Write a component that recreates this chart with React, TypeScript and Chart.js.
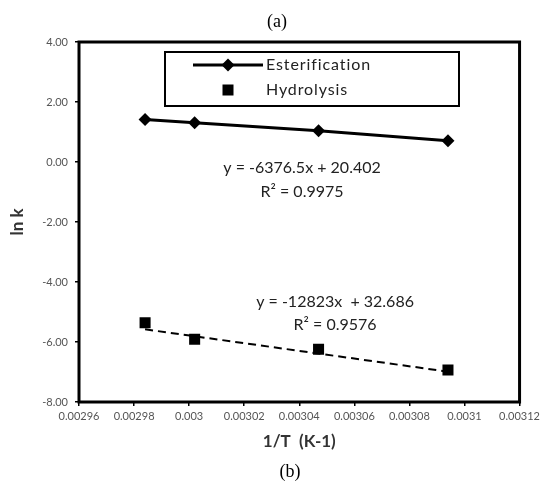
import React, { useEffect, useRef } from "react";
import { Chart, registerables } from "chart.js";

Chart.register(...registerables);

// ---- data ----
const invT = [0.002984, 0.003002, 0.003047, 0.003094];
const esterLnK = [1.42, 1.31, 1.04, 0.71];
const hydroLnK = [-5.36, -5.91, -6.24, -6.93];

// trendline equation of hydrolysis (as printed on the chart)
const hydroSlope = -12823;
const hydroIntercept = 32.686;

const xTicks = [0.00296, 0.00298, 0.003, 0.00302, 0.00304, 0.00306, 0.00308, 0.0031, 0.00312];
const xTickLabels = ["0.00296", "0.00298", "0.003", "0.00302", "0.00304", "0.00306", "0.00308", "0.0031", "0.00312"];
const yTicks = [-8, -6, -4, -2, 0, 2, 4];
const yTickLabels = ["-8.00", "-6.00", "-4.00", "-2.00", "0.00", "2.00", "4.00"];

const seriesNames = ["Esterification", "Hydrolysis"];

// equation annotations: [x, y, text]
const eqLabels: [number, number, string][] = [
  [0.003041, -0.2, "y = -6376.5x + 20.402"],
  [0.003041, -1.0, "R² = 0.9975"],
  [0.003053, -4.67, "y = -12823x  + 32.686"],
  [0.003053, -5.43, "R² = 0.9576"],
];

const UI_FONT = "Lato, 'Open Sans', sans-serif";

const decorPlugin = {
  id: "decor",
  afterDraw(chart: any) {
    const ctx = chart.ctx;
    const ca = chart.chartArea;
    const xs = chart.scales.x;
    const ys = chart.scales.y;
    ctx.save();
    // frame
    ctx.strokeStyle = "#000";
    ctx.lineWidth = 3;
    ctx.strokeRect(ca.left, ca.top, ca.right - ca.left, ca.bottom - ca.top);

    // equations
    ctx.fillStyle = "#222";
    ctx.font = `16px ${UI_FONT}`;
    ctx.textAlign = "center";
    ctx.textBaseline = "middle";
    eqLabels.forEach(([x, y, t]) => {
      ctx.fillText(t, xs.getPixelForValue(x), ys.getPixelForValue(y));
    });

    // legend
    const lx = 165, ly = 52, lw = 294, lh = 54;
    ctx.fillStyle = "#fff";
    ctx.fillRect(lx, ly, lw, lh);
    ctx.lineWidth = 2;
    ctx.strokeStyle = "#000";
    ctx.strokeRect(lx, ly, lw, lh);
    const row1 = ly + 13, row2 = ly + 38;
    ctx.lineWidth = 3;
    ctx.beginPath();
    ctx.moveTo(193, row1);
    ctx.lineTo(263, row1);
    ctx.stroke();
    ctx.fillStyle = "#000";
    ctx.beginPath();
    ctx.moveTo(228, row1 - 6.5);
    ctx.lineTo(234.5, row1);
    ctx.lineTo(228, row1 + 6.5);
    ctx.lineTo(221.5, row1);
    ctx.closePath();
    ctx.fill();
    ctx.fillRect(228 - 5.5, row2 - 5.5, 11, 11);
    ctx.fillStyle = "#222";
    ctx.font = `16px ${UI_FONT}`;
    ctx.textAlign = "left";
    if ("letterSpacing" in ctx) (ctx as any).letterSpacing = "0.9px";
    ctx.fillText(seriesNames[0], 266, row1);
    ctx.fillText(seriesNames[1], 266, row2);
    if ("letterSpacing" in ctx) (ctx as any).letterSpacing = "0px";

    // (a) and (b)
    ctx.fillStyle = "#000";
    ctx.font = "18px 'Liberation Serif', serif";
    ctx.textAlign = "center";
    ctx.fillText("(a)", 277, 22);
    ctx.fillText("(b)", 290, 472);
    ctx.restore();
  },
};

export default function App() {
  const ref = useRef<HTMLCanvasElement | null>(null);
  useEffect(() => {
    if (!ref.current) return;
    const trendX = [invT[0], invT[invT.length - 1]];
    const chart = new Chart(ref.current, {
      type: "scatter",
      data: {
        datasets: [
          {
            label: seriesNames[0],
            data: invT.map((x, i) => ({ x, y: esterLnK[i] })),
            showLine: true,
            borderColor: "#000",
            backgroundColor: "#000",
            borderWidth: 3,
            pointStyle: "rectRot",
            pointRadius: 6.5,
            pointBorderWidth: 0,
          },
          {
            label: seriesNames[1],
            data: invT.map((x, i) => ({ x, y: hydroLnK[i] })),
            showLine: false,
            borderColor: "#000",
            backgroundColor: "#000",
            pointStyle: "rect",
            pointRadius: 7.8,
            pointBorderWidth: 0,
          },
          {
            label: "trend",
            data: trendX.map((x) => ({ x, y: hydroSlope * x + hydroIntercept })),
            showLine: true,
            borderColor: "#000",
            borderWidth: 2,
            borderDash: [8, 5],
            pointRadius: 0,
          },
        ],
      },
      options: {
        responsive: false,
        animation: false,
        layout: { padding: { left: 0, top: 42, right: 23, bottom: 30 } },
        plugins: {
          legend: { display: false },
          tooltip: { enabled: false },
          title: { display: false },
        },
        scales: {
          x: {
            type: "linear",
            min: 0.00296,
            max: 0.00312,
            afterBuildTicks: (s: any) => {
              s.ticks = xTicks.map((v) => ({ value: v }));
            },
            afterFit: (s: any) => {
              s.height = 52;
            },
            border: { display: false },
            grid: { drawOnChartArea: false, drawTicks: true, tickLength: 4, color: "#000", lineWidth: 1.5 },
            ticks: {
              autoSkip: false,
              maxRotation: 0,
              padding: 4,
              color: "#555",
              font: { family: UI_FONT, size: 11 },
              callback: (_v: any, i: number) => xTickLabels[i],
            },
            title: {
              display: true,
              text: "1/T  (K-1)",
              color: "#333",
              font: { family: UI_FONT, size: 17, weight: "bold" },
              padding: { top: 0, bottom: 2 },
            },
          },
          y: {
            type: "linear",
            min: -8,
            max: 4,
            afterBuildTicks: (s: any) => {
              s.ticks = yTicks.map((v) => ({ value: v }));
            },
            afterFit: (s: any) => {
              s.width = 79;
            },
            border: { display: false },
            grid: { drawOnChartArea: false, drawTicks: true, tickLength: 4, color: "#000", lineWidth: 1.5 },
            ticks: {
              autoSkip: false,
              padding: 7,
              color: "#555",
              font: { family: UI_FONT, size: 11 },
              callback: (_v: any, i: number) => yTickLabels[i],
            },
            title: {
              display: true,
              text: "ln k",
              color: "#333",
              font: { family: UI_FONT, size: 17, weight: "bold" },
              padding: { top: 7, bottom: 0 },
            },
          },
        },
      },
      plugins: [decorPlugin],
    });
    return () => chart.destroy();
  }, []);
  return (
    <div style={{ position: "fixed", left: 0, top: 0, width: 544, height: 484, background: "#fff" }}>
      <canvas ref={ref} width={544} height={484} style={{ display: "block" }} />
    </div>
  );
}
